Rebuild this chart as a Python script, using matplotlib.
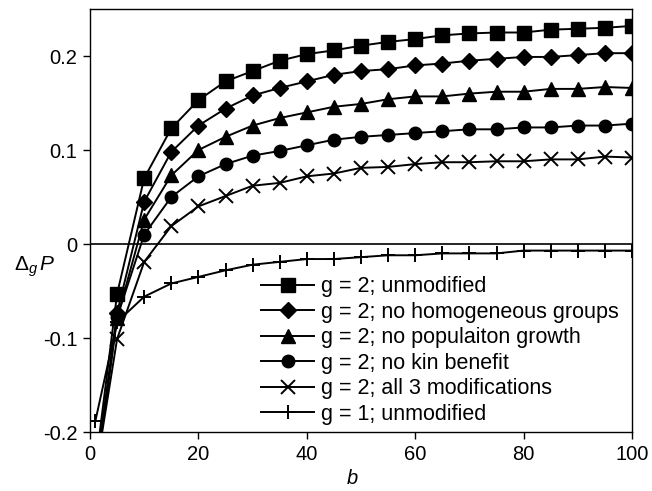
import matplotlib
matplotlib.use("Agg")
import matplotlib.pyplot as plt
from matplotlib.ticker import FuncFormatter

plt.rcParams['font.family'] = ['Liberation Sans', 'DejaVu Sans']
plt.rcParams['mathtext.fontset'] = 'custom'
plt.rcParams['mathtext.rm'] = 'Liberation Sans'
plt.rcParams['mathtext.it'] = 'Liberation Sans:italic'

b = [1, 5, 10, 15, 20, 25, 30, 35, 40, 45, 50, 55, 60, 65, 70, 75, 80, 85, 90, 95, 100]

unmodified = [-0.237, -0.053, 0.070, 0.123, 0.153, 0.173, 0.184, 0.195, 0.202,
              0.206, 0.211, 0.215, 0.218, 0.222, 0.224, 0.225, 0.225, 0.228, 0.229, 0.230, 0.232]
no_homog = [-0.245, -0.073, 0.045, 0.098, 0.126, 0.144, 0.158, 0.166, 0.173,
            0.180, 0.184, 0.186, 0.190, 0.192, 0.195, 0.197, 0.199, 0.199, 0.201, 0.203, 0.203]
no_growth = [-0.248, -0.079, 0.026, 0.073, 0.100, 0.114, 0.126, 0.134, 0.140,
             0.146, 0.149, 0.154, 0.157, 0.157, 0.160, 0.162, 0.162, 0.165, 0.165, 0.167, 0.166]
no_kin = [-0.250, -0.078, 0.010, 0.050, 0.072, 0.085, 0.094, 0.099, 0.105,
          0.111, 0.114, 0.116, 0.118, 0.120, 0.122, 0.122, 0.124, 0.124, 0.126, 0.126, 0.128]
all_mods = [-0.245, -0.101, -0.019, 0.019, 0.040, 0.051, 0.062, 0.065, 0.072,
            0.075, 0.081, 0.082, 0.085, 0.087, 0.087, 0.088, 0.088, 0.090, 0.090, 0.093, 0.092]
g1_unmod = [-0.188, -0.083, -0.056, -0.042, -0.035, -0.028, -0.022, -0.019, -0.016,
            -0.016, -0.014, -0.012, -0.012, -0.010, -0.010, -0.010, -0.007, -0.007, -0.007, -0.007, -0.007]

labels = ["g = 2; unmodified", "g = 2; no homogeneous groups", "g = 2; no populaiton growth",
          "g = 2; no kin benefit", "g = 2; all 3 modifications", "g = 1; unmodified"]

x_ticks = [0, 20, 40, 60, 80, 100]
y_ticks = [-0.2, -0.1, 0, 0.1, 0.2]

fig = plt.figure(figsize=(6.52, 4.91), dpi=100)
ax = fig.add_axes([90/652, 1-432/491, 542/652, 423/491])

styles = [
    dict(marker='s', ms=9.5, mew=1),
    dict(marker='D', ms=8, mew=1),
    dict(marker='^', ms=10.5, mew=1),
    dict(marker='o', ms=9, mew=1),
    dict(marker='x', ms=10.5, mew=1.4),
    dict(marker='+', ms=10.5, mew=1.4),
]
series = [unmodified, no_homog, no_growth, no_kin, all_mods, g1_unmod]
for ys, lab, st in zip(series, labels, styles):
    ax.plot(b, ys, color='black', lw=1.4, mfc='black', mec='black', label=lab, **st)

ax.axhline(0, color='black', lw=1.2)

ax.set_xlim(0, 100)
ax.set_ylim(-0.2, 0.25)
ax.set_xticks(x_ticks)
ax.set_yticks(y_ticks)
ax.yaxis.set_major_formatter(FuncFormatter(lambda v, p: ('%g' % round(v, 3)).replace('\u2212', '-')))
ax.tick_params(direction='out', length=5, width=1, labelsize=14.5, colors='black', pad=4)
for s in ax.spines.values():
    s.set_linewidth(1)
    s.set_color('black')

fig.text(352/652, 1-478/491, 'b', fontsize=14.5, style='italic', ha='center', va='center')
fig.text(35/652, 1-267/491, r'$\Delta_g\,P$', fontsize=15, ha='center', va='center')

leg = ax.legend(loc='lower right', bbox_to_anchor=(0.975, 0.017), frameon=False,
                fontsize=15.5, handlelength=2.45, handletextpad=0.3, labelspacing=0.21,
                borderpad=0, borderaxespad=0)

fig.savefig('out.png', dpi=100)
